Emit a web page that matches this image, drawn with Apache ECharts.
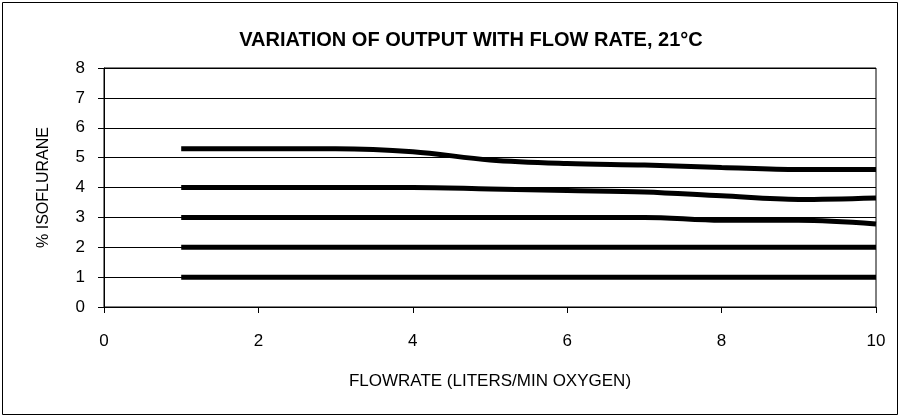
<!DOCTYPE html>
<html>
<head>
<meta charset="utf-8">
<script src="https://cdn.jsdelivr.net/npm/echarts@6/dist/echarts.min.js"></script>
<style>
  html, body { margin: 0; padding: 0; background: #fff; }
  #chart { width: 900px; height: 418px; }
</style>
</head>
<body>
<div id="chart"></div>
<script>
// flow rate, liters/min oxygen
const flowRates = [1, 2, 3, 4, 5, 6, 7, 8, 9, 10];

// % isoflurane output at each dial setting
const dial5 = [5.3, 5.3, 5.3, 5.2, 4.92, 4.8, 4.75, 4.67, 4.6, 4.6];
const dial4 = [4.0, 4.0, 4.0, 4.0, 3.95, 3.9, 3.85, 3.72, 3.6, 3.65];
const dial3 = [3.0, 3.0, 3.0, 3.0, 3.0, 3.0, 3.0, 2.9, 2.9, 2.78];
const dial2 = [2, 2, 2, 2, 2, 2, 2, 2, 2, 2];
const dial1 = [1, 1, 1, 1, 1, 1, 1, 1, 1, 1];

const xTicks = [0, 2, 4, 6, 8, 10];
const yTicks = [0, 1, 2, 3, 4, 5, 6, 7, 8];

const chart = echarts.init(document.getElementById('chart'));

const font = '"Liberation Sans", Arial, sans-serif';

const pairs = (vals) => flowRates.map((x, i) => [x, vals[i]]);

const mkSeries = (name, vals) => ({
  name,
  type: 'line',
  data: pairs(vals),
  showSymbol: false,
  smooth: 0.35,
  lineStyle: { color: '#000', width: 5 },
  z: 3
});

chart.setOption({
  animation: false,
  backgroundColor: '#fff',
  title: {
    text: 'VARIATION OF OUTPUT WITH FLOW RATE, 21°C',
    left: 466,
    top: 25,
    textAlign: 'center',
    textStyle: { fontFamily: font, fontSize: 20, fontWeight: 'bold', color: '#000' }
  },
  grid: {
    left: 104, right: 24, top: 68, bottom: 111,
    show: true, borderColor: '#000', borderWidth: 1, backgroundColor: 'transparent'
  },
  xAxis: {
    type: 'value',
    min: xTicks[0],
    max: xTicks[xTicks.length - 1],
    interval: 2,
    name: 'FLOWRATE (LITERS/MIN OXYGEN)',
    nameLocation: 'middle',
    nameGap: 66,
    nameTextStyle: { fontFamily: font, fontSize: 17, color: '#000' },
    axisLine: { lineStyle: { color: '#000', width: 1 } },
    axisTick: { inside: false, length: 6, lineStyle: { color: '#000' } },
    axisLabel: { fontFamily: font, fontSize: 17, color: '#000', margin: 26 },
    splitLine: { show: false }
  },
  yAxis: {
    type: 'value',
    min: yTicks[0],
    max: yTicks[yTicks.length - 1],
    interval: 1,
    name: '% ISOFLURANE',
    nameLocation: 'middle',
    nameGap: 52,
    nameTextStyle: { fontFamily: font, fontSize: 16, color: '#000' },
    axisLine: { show: true, lineStyle: { color: '#000', width: 1 } },
    axisTick: { show: true, inside: false, length: 6, lineStyle: { color: '#000' } },
    axisLabel: { fontFamily: font, fontSize: 17, color: '#000', margin: 19 },
    splitLine: { show: true, lineStyle: { color: '#000', width: 1 } }
  },
  graphic: [{
    type: 'rect',
    shape: { x: 2.5, y: 2.5, width: 895, height: 412 },
    style: { fill: 'none', stroke: '#000', lineWidth: 1 },
    silent: true
  }],
  series: [
    mkSeries('5%', dial5),
    mkSeries('4%', dial4),
    mkSeries('3%', dial3),
    mkSeries('2%', dial2),
    mkSeries('1%', dial1)
  ]
});
</script>
</body>
</html>
